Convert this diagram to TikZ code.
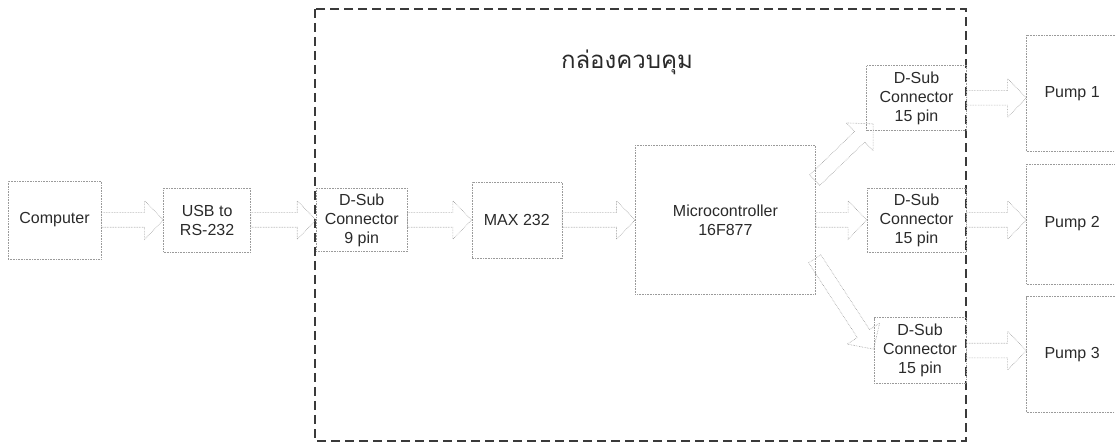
\documentclass[tikz,border=0pt]{standalone}
\usepackage{fontspec}
\setmainfont{Liberation Sans}
\newfontfamily\thaifont[Script=Thai]{Loma}
\usepackage{tikz}
\usetikzlibrary{positioning, shapes.arrows, calc}
\definecolor{boxline}{HTML}{9A9A9A}
\definecolor{frameline}{HTML}{3A3A3A}
\definecolor{label}{HTML}{2A2A2A}

% hollow block arrow from one anchor to another
\newcommand{\bigarrow}[2]{%
  \path let \p1=(#1), \p2=(#2), \n1={veclen(\x2-\x1,\y2-\y1)} in
    (\p1) -- (\p2) node[fatarr, pos=0, anchor=tail, sloped, minimum height=\n1] {};}

\begin{document}
\begin{tikzpicture}[
    x=1pt, y=1pt,
    blk/.style={draw=boxline, densely dotted, line width=0.6pt, inner sep=0pt,
                align=center, text=label, font=\fontsize{16}{19}\selectfont},
    fatarr/.style={single arrow, draw=boxline, densely dotted, line width=0.6pt,
                   inner xsep=0pt, inner ysep=7pt, outer sep=0pt, minimum width=38pt,
                   single arrow head extend=12pt, single arrow tip angle=92,
                   allow upside down},
    frame/.style={draw=frameline, dashed, dash pattern=on 9pt off 5pt, line width=1.1pt},
    title/.style={text=label, font=\thaifont\fontsize{24}{28}\selectfont},
]
\useasboundingbox (0,0) rectangle (1115,444);

% dashed control box
\draw[frame] (315,435) rectangle (966,3);
\node[title] (ttl) at (627,382) {กล่องควบคุม};

% main chain
\node[blk, minimum width=93pt, minimum height=78pt] (comp) at (54.5,224) {Computer};
\node[blk, minimum width=87pt, minimum height=64pt, right=62pt of comp] (usb) {USB to\\RS-232};
\node[blk, minimum width=91pt, minimum height=63pt, right=65pt of usb] (dsub9) {D-Sub\\Connector\\9 pin};
\node[blk, minimum width=90pt, minimum height=76pt, right=64pt of dsub9] (max) {MAX 232};
\node[blk, minimum width=180pt, minimum height=149pt, right=73pt of max] (mcu) {Microcontroller\\16F877};

% output connectors
\node[blk, minimum width=99pt, minimum height=64pt, right=51pt of mcu] (dsubB) {D-Sub\\Connector\\15 pin};
\node[blk, minimum width=100pt, minimum height=65pt, above=57pt of dsubB] (dsubA) {D-Sub\\Connector\\15 pin};
\node[blk, minimum width=92pt, minimum height=66pt, below=65pt of dsubB, xshift=3.5pt] (dsubC) {D-Sub\\Connector\\15 pin};

% pumps
\node[blk, minimum width=91pt, minimum height=120pt, right=60pt of dsubB, yshift=-4pt] (pump2) {Pump 2};
\node[blk, minimum width=91pt, minimum height=116pt, above=12pt of pump2] (pump1) {Pump 1};
\node[blk, minimum width=91pt, minimum height=116pt, below=12pt of pump2] (pump3) {Pump 3};

% block arrows
\bigarrow{comp.east}{usb.west}
\bigarrow{usb.east}{dsub9.west}
\bigarrow{dsub9.east}{max.west}
\bigarrow{max.east}{mcu.west}
\bigarrow{mcu.east}{dsubB.west}
\bigarrow{$(mcu.north east)+(-1,-35)$}{$(dsubA.south west)+(7,7)$}
\bigarrow{$(mcu.south east)+(-1,36)$}{$(dsubC.north west)+(0,-32)$}
\bigarrow{dsubA.east}{dsubA.east -| pump1.west}
\bigarrow{dsubB.east}{dsubB.east -| pump2.west}
\bigarrow{dsubC.east}{dsubC.east -| pump3.west}

\end{tikzpicture}
\end{document}
